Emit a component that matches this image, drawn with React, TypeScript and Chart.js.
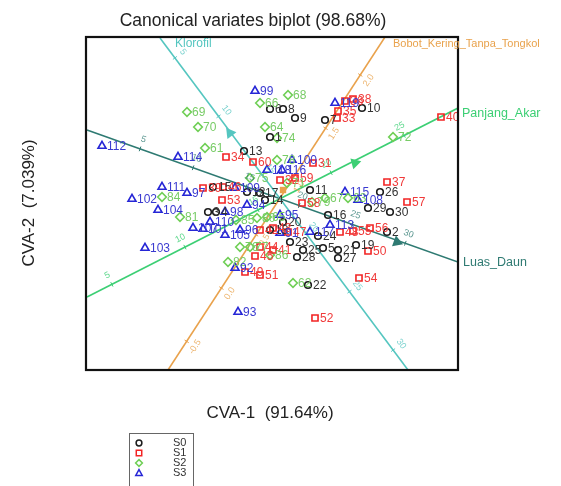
import React, { useEffect, useRef } from "react";
import { Chart, registerables } from "chart.js";
Chart.register(...registerables);

const titleText = "Canonical variates biplot (98.68%)";
const xTitle = "CVA-1  (91.64%)";
const yTitle = "CVA-2  (7.039%)";
const groupNames = ["S0", "S1", "S2", "S3"];

const s0Labels = [1,2,3,4,5,6,7,8,9,10,11,12,13,14,15,16,17,18,19,20,21,22,23,24,25,26,27,28,29,30];
const s0X = [-0.55,5.3,-3.65,-3.25,2.1,-0.55,2.2,0.1,0.7,4.05,1.45,-1.7,-1.85,-0.8,-3.4,2.35,-1.05,-0.55,3.75,0.1,2.85,1.35,0.45,1.85,1.1,4.95,2.85,0.8,4.35,5.45];
const s0Y = [3.0,-1.75,-0.75,-0.75,-2.55,4.4,3.85,4.4,3.95,4.45,0.35,0.25,2.3,-0.15,0.5,-0.9,0.2,-1.65,-2.4,-1.25,-2.65,-4.4,-2.25,-1.95,-2.65,0.25,-3.05,-3.0,-0.55,-0.75];

const s1Labels = [31,32,33,34,35,36,37,38,39,40,41,42,43,44,45,46,47,48,49,50,51,52,53,54,55,56,57,58,59,60];
const s1X = [1.6,-0.05,2.8,-2.75,2.85,3.2,5.3,3.6,-3.9,8.0,-0.4,-1.05,-0.4,-1.05,-1.3,-2.9,0.35,2.95,-1.8,4.35,-1.05,1.7,-2.95,3.9,3.6,4.45,6.3,1.05,0.7,-1.4];
const s1Y = [1.7,0.85,3.95,2.0,4.3,4.8,0.75,4.9,0.45,4.0,-2.65,-1.65,-1.55,-2.5,-2.95,0.5,-1.75,-1.75,-3.75,-2.7,-3.9,-6.05,-0.15,-4.05,-1.7,-1.55,-0.25,-0.3,0.95,1.75];

const s2Labels = [61,62,63,64,65,66,67,68,69,70,71,72,74,75,76,77,78,79,80,81,82,84,85,86];
const s2X = [-3.8,0.6,3.35,-0.8,-0.7,-1.05,2.2,0.35,-4.7,-4.15,0.3,5.6,-0.2,-1.55,-2.05,-1.55,-0.2,1.55,-1.2,-5.05,-2.65,-5.95,-2.25,-0.55];
const s2Y = [2.45,-4.3,-0.05,3.5,-1.0,4.7,-0.05,5.1,4.25,3.5,0.7,3.0,2.95,0.95,-2.5,-2.5,1.85,-0.25,-1.05,-1.0,-3.25,0.0,-1.15,-2.9];

const s3Labels = [91,92,93,94,95,96,97,98,99,100,101,102,103,104,105,107,108,109,110,111,112,113,114,115,116,117,118,119];
const s3X = [-0.05,-2.3,-2.15,-1.7,-0.05,-2.05,-4.7,-2.8,-1.3,0.55,-3.9,-7.45,-6.8,-6.15,-2.8,-4.4,3.85,-2.3,-3.55,-5.95,-8.95,2.45,-5.15,3.2,0.05,1.45,-0.7,2.7];
const s3Y = [-1.8,-3.55,-5.75,-0.4,-0.9,-1.65,0.2,-0.75,5.3,1.85,-1.6,-0.1,-2.55,-0.65,-1.9,-1.55,-0.15,0.45,-1.25,0.5,2.55,-1.4,2.0,0.25,1.35,-1.75,1.35,4.7];

// biplot axes (variables)
const axisNames = ["Klorofil", "Bobot_Kering_Tanpa_Tongkol", "Panjang_Akar", "Luas_Daun"];
const axisFromX = [-6.05, 5.2, -9.7, -9.7];
const axisFromY = [7.95, 8.0, -5.0, 3.35];
const axisToX = [6.35, -5.65, 8.85, 8.85];
const axisToY = [-8.65, -8.65, 4.45, -3.25];
const axisTickStart = [0.06, 0.114, 0.067, 0.143];
const axisTickStep = [0.176, 0.16, 0.197, 0.143];
const axisTickLabels = [
  ["5", "10", "15", "20", "25", "30"],
  ["2.0", "1.5", "1.0", "0.5", "0.0", "-0.5"],
  ["5", "10", "15", "20", "25"],
  ["5", "10", "15", "20", "25", "30"],
];
const arrowX = [-2.55, 0.1, 3.7, 5.8];
const arrowY = [3.2, 0.35, 1.7, -2.25];

// styles
const groupColors = ["#1c1c1c", "#f22424", "#6fcf55", "#2626d6"];
const labelColors = ["#333333", "#f03a3a", "#78cc66", "#3a3ad0"];
const groupStyles = ["circle", "rect", "rectRot", "triangle"];
const groupRadius = [3.3, 4.3, 4.3, 4.6];
const axisColors = ["#55c6c0", "#e9a24c", "#3ccf74", "#2e7a72"];
const axisLabelAtEnd = [false, false, true, true];
const axisLabelOffset = [[15, 6], [8, 7], [4, 6], [5, 1]];
const axisLabelFont = ["12px Arial", "11px Arial", "12.5px Arial", "12.5px Arial"];
const arrowStyles = ["triangle", "rect", "triangle", "triangle"];
const arrowRot = [-37, 0, 195, 110];

const groups = [
  { labels: s0Labels, xs: s0X, ys: s0Y },
  { labels: s1Labels, xs: s1X, ys: s1Y },
  { labels: s2Labels, xs: s2X, ys: s2Y },
  { labels: s3Labels, xs: s3X, ys: s3Y },
];

function drawMarker(ctx: CanvasRenderingContext2D, style: string, x: number, y: number, r: number) {
  ctx.beginPath();
  if (style === "circle") {
    ctx.arc(x, y, r * 0.85, 0, Math.PI * 2);
  } else if (style === "rect") {
    const s = r * 0.8;
    ctx.rect(x - s, y - s, 2 * s, 2 * s);
  } else if (style === "rectRot") {
    ctx.moveTo(x, y - r); ctx.lineTo(x + r, y); ctx.lineTo(x, y + r); ctx.lineTo(x - r, y); ctx.closePath();
  } else {
    ctx.moveTo(x, y - r); ctx.lineTo(x + r * 0.95, y + r * 0.7); ctx.lineTo(x - r * 0.95, y + r * 0.7); ctx.closePath();
  }
  ctx.stroke();
}

const overlay = {
  id: "overlay",
  afterDatasetsDraw(chart: any) {
    const { ctx, scales } = chart;
    const sx = scales.x, sy = scales.y;
    // axis ticks
    axisNames.forEach((_, i) => {
      const x0 = sx.getPixelForValue(axisFromX[i]);
      const y0 = sy.getPixelForValue(axisFromY[i]);
      const x1 = sx.getPixelForValue(axisToX[i]);
      const y1 = sy.getPixelForValue(axisToY[i]);
      const dx = x1 - x0, dy = y1 - y0;
      const len = Math.hypot(dx, dy);
      const ux = dx / len, uy = dy / len;
      const px = uy, py = -ux;
      ctx.save();
      ctx.strokeStyle = axisColors[i];
      ctx.fillStyle = axisColors[i];
      ctx.lineWidth = 1;
      axisTickLabels[i].forEach((lab, k) => {
        const t = axisTickStart[i] + k * axisTickStep[i];
        const cx = x0 + dx * t, cy = y0 + dy * t;
        ctx.beginPath();
        ctx.moveTo(cx - px * 2.5, cy - py * 2.5);
        ctx.lineTo(cx + px * 2.5, cy + py * 2.5);
        ctx.stroke();
        ctx.save();
        ctx.translate(cx + px * 10, cy + py * 10);
        let ang = Math.atan2(uy, ux);
        if (ang > Math.PI / 2) ang -= Math.PI;
        if (ang < -Math.PI / 2) ang += Math.PI;
        ctx.rotate(ang);
        ctx.globalAlpha = 0.8;
        ctx.font = "9px Arial";
        ctx.textAlign = "center";
        ctx.textBaseline = "middle";
        ctx.fillText(lab, 0, 0);
        ctx.restore();
      });
      ctx.restore();
    });
    // point labels
    groups.forEach((g, gi) => {
      const meta = chart.getDatasetMeta(4 + gi);
      ctx.save();
      ctx.fillStyle = labelColors[gi];
      ctx.font = "12px Arial";
      ctx.textAlign = "left";
      ctx.textBaseline = "middle";
      meta.data.forEach((el: any, j: number) => {
        ctx.fillText(String(g.labels[j]), el.x + 5, el.y + 1);
      });
      ctx.restore();
    });
  },
  afterDraw(chart: any) {
    const { ctx, chartArea: a, scales } = chart;
    const sx = scales.x, sy = scales.y;
    ctx.save();
    // frame
    ctx.strokeStyle = "#111";
    ctx.lineWidth = 2.2;
    ctx.strokeRect(a.left, a.top, a.right - a.left, a.bottom - a.top);
    // axis names
    axisNames.forEach((name, i) => {
      const ex = axisLabelAtEnd[i] ? axisToX[i] : axisFromX[i];
      const ey = axisLabelAtEnd[i] ? axisToY[i] : axisFromY[i];
      const px = sx.getPixelForValue(ex) + axisLabelOffset[i][0];
      const py = sy.getPixelForValue(ey) + axisLabelOffset[i][1];
      ctx.fillStyle = axisColors[i];
      ctx.font = axisLabelFont[i];
      ctx.textAlign = "left";
      ctx.textBaseline = "middle";
      ctx.fillText(name, px, py);
    });
    // titles
    ctx.fillStyle = "#222";
    ctx.textAlign = "center";
    ctx.textBaseline = "middle";
    ctx.font = "17.5px Arial";
    ctx.fillText(titleText, 253, 21);
    ctx.font = "17px Arial";
    ctx.fillText(xTitle, 270, 413);
    ctx.save();
    ctx.translate(29, 203);
    ctx.rotate(-Math.PI / 2);
    ctx.fillText(yTitle, 0, 0);
    ctx.restore();
    // legend
    ctx.strokeStyle = "#666";
    ctx.lineWidth = 1;
    ctx.strokeRect(129.5, 433.5, 64, 70);
    groupNames.forEach((name, i) => {
      const y = 443 + i * 10;
      ctx.strokeStyle = groupColors[i];
      ctx.lineWidth = 1.5;
      drawMarker(ctx, groupStyles[i], 139, y, 3.4);
      ctx.fillStyle = "#333";
      ctx.font = "11px Arial";
      ctx.textAlign = "left";
      ctx.textBaseline = "middle";
      ctx.fillText(name, 173, y);
    });
    ctx.restore();
  },
};

export default function App() {
  const ref = useRef<HTMLCanvasElement>(null);
  useEffect(() => {
    const axisSets = axisNames.map((name, i) => ({
      type: "line" as const,
      label: name,
      data: [
        { x: axisFromX[i], y: axisFromY[i] },
        { x: axisToX[i], y: axisToY[i] },
      ],
      borderColor: axisColors[i],
      borderWidth: 1.6,
      pointRadius: 0,
      showLine: true,
      fill: false,
      clip: 0,
      order: 10,
    }));
    const pointSets = groups.map((g, gi) => ({
      type: "scatter" as const,
      label: groupNames[gi],
      data: g.xs.map((x, j) => ({ x, y: g.ys[j] })),
      pointStyle: groupStyles[gi],
      pointRadius: groupRadius[gi],
      pointBorderWidth: 1.6,
      borderColor: groupColors[gi],
      backgroundColor: "rgba(0,0,0,0)",
      pointBackgroundColor: "rgba(0,0,0,0)",
      order: 5,
    }));
    const arrowSet = {
      type: "scatter" as const,
      label: "arrows",
      data: arrowX.map((x, i) => ({ x, y: arrowY[i] })),
      pointStyle: arrowStyles as any,
      pointRadius: [6.5, 4.5, 6.5, 6.5],
      pointRotation: arrowRot,
      pointBorderWidth: 0,
      pointBackgroundColor: axisColors,
      borderColor: axisColors,
      order: 1,
    };
    const chart = new Chart(ref.current as HTMLCanvasElement, {
      type: "scatter",
      data: { datasets: [...axisSets, ...pointSets, arrowSet] as any },
      options: {
        responsive: false,
        animation: false,
        events: [],
        layout: { padding: { left: 86, top: 37, right: 103, bottom: 116 } },
        scales: {
          x: { type: "linear", min: -9.75, max: 8.85, display: false },
          y: { type: "linear", min: -8.65, max: 8.0, display: false },
        },
        plugins: {
          legend: { display: false },
          title: { display: false },
          tooltip: { enabled: false },
        },
      },
      plugins: [overlay],
    });
    return () => chart.destroy();
  }, []);
  return (
    <div style={{ position: "fixed", left: 0, top: 0, width: 561, height: 486, background: "#fff" }}>
      <canvas ref={ref} width={561} height={486} style={{ display: "block", width: 561, height: 486 }} />
    </div>
  );
}
